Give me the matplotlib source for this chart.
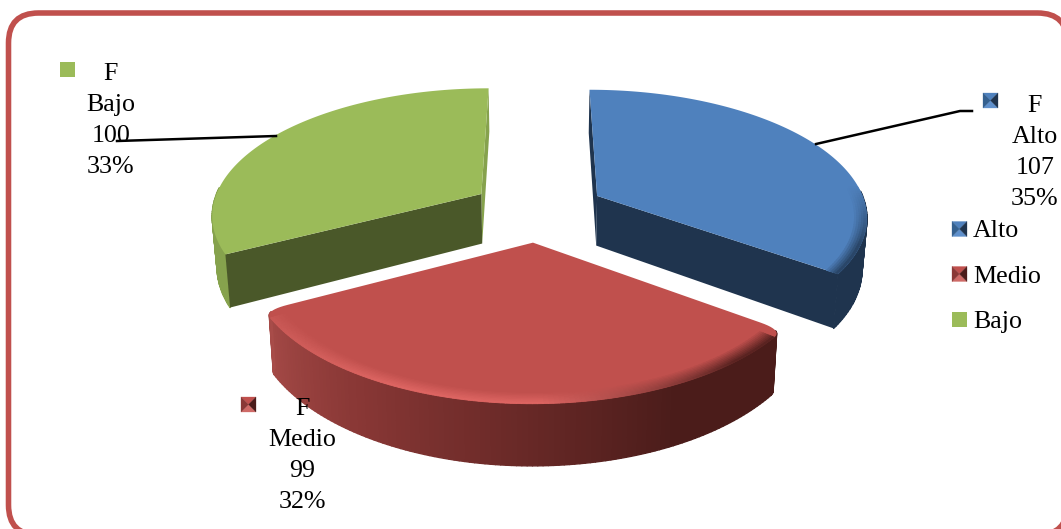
import numpy as np
import matplotlib
matplotlib.use('Agg')
import matplotlib.pyplot as plt
from matplotlib.collections import PolyCollection
from matplotlib.colors import to_rgb
from matplotlib.patches import FancyBboxPatch, Polygon

categories = ['Alto', 'Medio', 'Bajo']
series_name = 'F'
values = [107, 99, 100]
percents = ['35%', '32%', '33%']

top_colors = ['#4F81BD', '#C0504D', '#9BBB59']
cut_colors = ['#1F344E', '#4B1C1A', '#4A5829']
edge_colors = ['#1F344E', '#4B1C1A', '#86A24D']

# projection of the pie onto the page, in pixels
X0, Y0 = 538, 210
A, B = 270, 126
P = 0.15
EXPLODE = 0.25
DEPTH = 50.5
SHRINK = 0.985
CORNER_DEG = 3
CURVE_PTS = 12


def project(u, v):
    s = 1 / (1 + P * v)
    return X0 + A * u * s, Y0 - B * v * s, s


def bottom(u, v):
    x, y, s = project(u, v)
    return X0 + (x - X0) * SHRINK, y + DEPTH * s


def mix(c1, c2, f):
    return tuple(np.array(to_rgb(c1)) * (1 - f) + np.array(to_rgb(c2)) * f)


def slice_pts(start, end, mid, r=1.0, n=120):
    t = np.radians(np.linspace(start, end, n))
    ox, oy = EXPLODE * np.cos(np.radians(mid)), EXPLODE * np.sin(np.radians(mid))
    return ox + r * np.cos(t), oy + r * np.sin(t), ox, oy


def corner_curve(o, c, r):
    # from a point on the cut edge, round the corner, to a point on the rim
    e = o + (c - o) * 0.92
    w = np.linspace(0, 1, CURVE_PTS)[:, None]
    return (1 - w) ** 2 * e + 2 * w * (1 - w) * c + w ** 2 * r


def rounded_pts(start, end, mid):
    step = CORNER_DEG if end > start else -CORNER_DEG
    u, v, ox, oy = slice_pts(start + step, end - step, mid)
    o = np.array([ox, oy])
    cs = np.array([ox + np.cos(np.radians(start)), oy + np.sin(np.radians(start))])
    ce = np.array([ox + np.cos(np.radians(end)), oy + np.sin(np.radians(end))])
    first = corner_curve(o, cs, np.array([u[0], v[0]]))
    last = corner_curve(o, ce, np.array([u[-1], v[-1]]))[::-1]
    pts = np.vstack([first, np.column_stack([u, v]), last])
    return pts[:, 0], pts[:, 1], ox, oy


def red_side(f):
    stops = ['#A84C49', '#8A3836', '#6B2A28', '#4B1C1A', '#4B1C1A']
    pos = np.clip(f, 0, 1) * (len(stops) - 1)
    i = min(int(pos), len(stops) - 2)
    return mix(stops[i], stops[i + 1], pos - i)


def red_rim(f):
    if f < 0.55:
        return mix('#C85855', '#DD6562', min(f / 0.3, 1))
    return mix('#DD6562', '#5A2321', min((f - 0.55) / 0.35, 1))


def band(ax, start, end, mid, r0, r1, colfunc):
    ui, vi, _, _ = slice_pts(start, end, mid, r0)
    uo, vo, _, _ = slice_pts(start, end, mid, r1)
    strips, cols = [], []
    for k in range(len(ui) - 1):
        col = colfunc(k / (len(ui) - 2))
        if col is None:
            continue
        pi = [project(ui[k], vi[k])[:2], project(ui[k + 1], vi[k + 1])[:2]]
        po = [project(uo[k + 1], vo[k + 1])[:2], project(uo[k], vo[k])[:2]]
        strips.append(pi + po)
        cols.append(col)
    ax.add_collection(PolyCollection(strips, facecolors=cols, edgecolors=cols, linewidths=0.6))


def draw_slice(ax, idx, start, end):
    mid = (start + end) / 2
    if idx == 1:
        u, v, ox, oy = rounded_pts(start, end, mid)
        first, last = CURVE_PTS // 2, len(u) - CURVE_PTS // 2 - 1
    else:
        u, v, ox, oy = slice_pts(start, end, mid)
        first, last = 0, len(u) - 1
    rim_top = np.array([project(a, b)[:2] for a, b in zip(u, v)])
    rim_bot = np.array([bottom(a, b) for a, b in zip(u, v)])
    apex = project(ox, oy)[:2]
    apex_b = bottom(ox, oy)

    # outer side, only the part facing the viewer
    strips, cols = [], []
    for k in range(first, last):
        if v[k] - oy > 0.05:
            continue
        strips.append([rim_top[k], rim_top[k + 1], rim_bot[k + 1], rim_bot[k]])
        f = (k - first) / max(last - first - 1, 1)
        cols.append(red_side(1 - f) if idx == 1 else edge_colors[idx])
    ax.add_collection(PolyCollection(strips, facecolors=cols, edgecolors=cols, linewidths=1))

    # cut faces: the front slice shows none
    if idx == 0:
        ax.add_patch(Polygon([apex, rim_top[0], rim_bot[0], apex_b], fc=cut_colors[0], ec='none'))
        ax.add_patch(Polygon([apex, rim_top[-1], rim_bot[-1], apex_b], fc=cut_colors[0], ec='none'))
    if idx == 2:
        ax.add_patch(Polygon([apex, rim_top[-1], rim_bot[-1], apex_b], fc=edge_colors[2], ec='none'))
        ax.add_patch(Polygon([apex, rim_top[0], rim_bot[0], apex_b], fc=cut_colors[2], ec='none'))

    # top face
    ax.add_patch(Polygon(np.vstack([[apex], rim_top]), fc=top_colors[idx], ec='none'))

    # bevel along the rim
    if idx == 1:
        step = CORNER_DEG if end > start else -CORNER_DEG
        bands = np.linspace(0.945, 1.0, 9)
        for j in range(len(bands) - 1):
            w = (j + 1) / (len(bands) - 1)
            band(ax, start + step, end - step, mid, bands[j], bands[j + 1],
                 lambda f: mix(top_colors[1], red_rim(1 - f), w))
    if idx == 0:
        bands = np.linspace(0.955, 0.998, 6)
        for j in range(len(bands) - 1):
            w = (j + 1) / (len(bands) - 1)
            band(ax, start, end, mid, bands[j], bands[j + 1],
                 lambda f: None if f < 0.68 else mix(top_colors[0], '#2A4668', w * min((f - 0.68) / 0.22, 1)))


def key(ax, x, y, size, top, left, right, low):
    c = (x + size / 2, y + size / 2)
    a, b, d, e = (x, y), (x + size, y), (x + size, y + size), (x, y + size)
    for pts, col in [((a, b, c), top), ((d, e, c), low), ((b, d, c), right), ((e, a, c), left)]:
        ax.add_patch(Polygon(pts, fc=col, ec=col, lw=0.2, zorder=6))


def key_for(ax, idx, x, y, size=15):
    if idx == 0:
        key(ax, x, y, size, '#4F81BD', '#34608F', '#1F344E', '#5F90CC')
    elif idx == 1:
        key(ax, x, y, size, '#C0504D', '#8A3836', '#4B1C1A', '#CF6A67')
    else:
        ax.add_patch(Polygon([(x, y), (x + size, y), (x + size, y + size), (x, y + size)], fc=top_colors[2], ec='none', zorder=6))


fig = plt.figure(figsize=(10.61, 5.29), dpi=100)
ax = fig.add_axes([0, 0, 1, 1])
ax.set_xlim(0, 1061)
ax.set_ylim(529, 0)
ax.axis('off')
plt.rcParams['font.family'] = ['Liberation Serif', 'DejaVu Serif']

ax.add_patch(FancyBboxPatch((8.5, 13), 1059, 522, boxstyle='round,pad=0,rounding_size=30',
                            fc='white', ec='#C0504D', lw=4))

angles = 90 - np.cumsum([0] + values) / sum(values) * 360
for idx in [2, 0, 1]:
    draw_slice(ax, idx, angles[idx], angles[idx + 1])

# leader lines
ax.plot([816, 960, 972], [144, 111, 111], color='black', lw=1.8, zorder=5)
ax.plot([117, 276], [141, 136], color='black', lw=1.8, zorder=5)

# data labels
label_x = [1035, 302, 111]
label_y = [112, 415, 80]
key_pos = [(983, 93), (241, 397), (60, 62)]
for i in range(3):
    lines = [series_name, categories[i], str(values[i]), percents[i]]
    for j, line in enumerate(lines):
        ax.text(label_x[i], label_y[i] + j * 30.9, line, ha='center', va='baseline', fontsize=18.7, color='black', zorder=7)
    key_for(ax, i, key_pos[i][0], key_pos[i][1])

# legend
legend_y = [229, 274, 319]
legend_base = [237, 283, 328]
for i in range(3):
    key_for(ax, i, 952, legend_y[i] - 7.5)
    ax.text(973, legend_base[i], categories[i], ha='left', va='baseline', fontsize=18.7, color='black', zorder=7)

fig.savefig('out.png', dpi=100)
